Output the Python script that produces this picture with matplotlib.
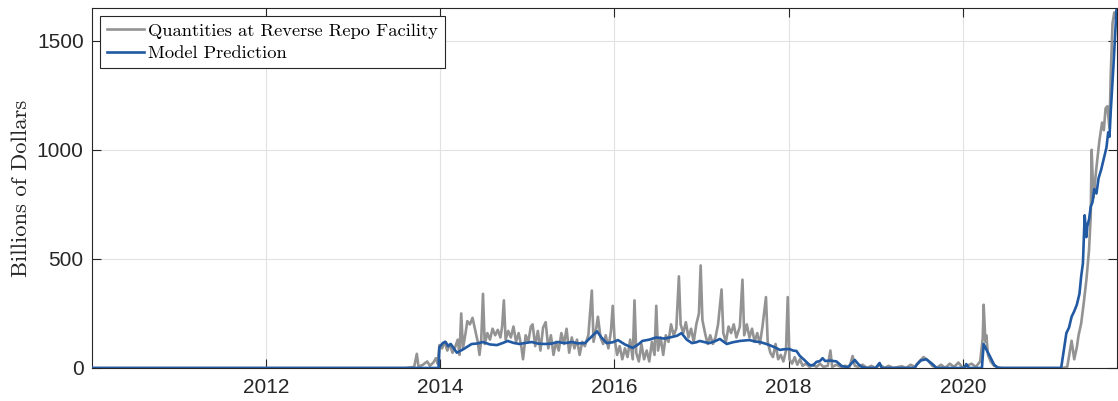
import matplotlib
matplotlib.use("Agg")
import matplotlib.pyplot as plt

# Quantities at the reverse repo facility (billions of dollars)
rrp_years = [2010.00, 2013.60, 2013.70, 2013.73, 2013.75, 2013.80, 2013.85, 2013.88, 2013.92, 2013.95,
             2013.97, 2013.99, 2014.02, 2014.05, 2014.08, 2014.11, 2014.14, 2014.17, 2014.20, 2014.22,
             2014.24, 2014.26, 2014.29, 2014.31, 2014.34, 2014.37, 2014.40, 2014.43, 2014.45, 2014.47,
             2014.49, 2014.51, 2014.54, 2014.57, 2014.60, 2014.63, 2014.66, 2014.69, 2014.71, 2014.73,
             2014.75, 2014.78, 2014.81, 2014.84, 2014.87, 2014.90, 2014.93, 2014.95, 2014.98, 2015.01,
             2015.04, 2015.06, 2015.09, 2015.12, 2015.15, 2015.18, 2015.21, 2015.24, 2015.27, 2015.30,
             2015.33, 2015.36, 2015.39, 2015.42, 2015.45, 2015.48, 2015.51, 2015.54, 2015.57, 2015.60,
             2015.63, 2015.66, 2015.70, 2015.74, 2015.76, 2015.79, 2015.81, 2015.84, 2015.87, 2015.90,
             2015.93, 2015.96, 2015.98, 2016.00, 2016.03, 2016.06, 2016.09, 2016.12, 2016.15, 2016.18,
             2016.21, 2016.23, 2016.25, 2016.28, 2016.31, 2016.34, 2016.37, 2016.40, 2016.43, 2016.46,
             2016.48, 2016.50, 2016.53, 2016.56, 2016.59, 2016.62, 2016.65, 2016.68, 2016.71, 2016.74,
             2016.76, 2016.79, 2016.82, 2016.85, 2016.88, 2016.91, 2016.94, 2016.97, 2016.99, 2017.01,
             2017.04, 2017.07, 2017.10, 2017.13, 2017.16, 2017.19, 2017.23, 2017.25, 2017.28, 2017.31,
             2017.34, 2017.37, 2017.40, 2017.44, 2017.47, 2017.49, 2017.52, 2017.55, 2017.58, 2017.61,
             2017.64, 2017.67, 2017.70, 2017.74, 2017.76, 2017.79, 2017.82, 2017.85, 2017.88, 2017.91,
             2017.94, 2017.97, 2017.99, 2018.01, 2018.04, 2018.07, 2018.10, 2018.13, 2018.16, 2018.20,
             2018.24, 2018.28, 2018.32, 2018.36, 2018.40, 2018.45, 2018.48, 2018.50, 2018.55, 2018.60,
             2018.65, 2018.70, 2018.735, 2018.76, 2018.80, 2018.85, 2018.90, 2018.95, 2019.00, 2019.05,
             2019.10, 2019.15, 2019.20, 2019.30, 2019.35, 2019.40, 2019.45, 2019.50, 2019.55, 2019.60,
             2019.65, 2019.70, 2019.75, 2019.80, 2019.85, 2019.90, 2019.95, 2020.00, 2020.05, 2020.10,
             2020.15, 2020.20, 2020.23, 2020.24, 2020.26, 2020.27, 2020.29, 2020.32, 2020.36, 2020.42,
             2021.15, 2021.20, 2021.25, 2021.28, 2021.31, 2021.33, 2021.36, 2021.39, 2021.42, 2021.45,
             2021.47, 2021.48, 2021.50, 2021.51, 2021.53, 2021.57, 2021.60, 2021.62, 2021.64, 2021.66,
             2021.685, 2021.70, 2021.72, 2021.74, 2021.76]
rrp_values = [0, 0, 5, 65, 5, 15, 30, 10, 25, 45,
              20, 105, 90, 120, 80, 110, 70, 95, 130, 60,
              250, 90, 160, 215, 200, 230, 175, 120, 60, 130,
              340, 110, 160, 130, 180, 150, 175, 140, 190, 310,
              130, 170, 140, 190, 120, 160, 100, 40, 150, 120,
              190, 200, 100, 170, 80, 185, 210, 90, 150, 60,
              120, 80, 160, 110, 180, 70, 140, 90, 130, 60,
              120, 100, 150, 355, 120, 180, 235, 140, 110, 150,
              90, 170, 285, 140, 60, 100, 40, 90, 50, 130,
              40, 310, 70, 30, 110, 40, 80, 30, 120, 60,
              285, 80, 140, 60, 150, 120, 200, 150, 180, 420,
              200, 160, 210, 140, 180, 120, 200, 250, 470, 220,
              160, 110, 150, 110, 140, 200, 360, 160, 120, 190,
              160, 200, 140, 190, 405, 150, 200, 140, 180, 120,
              160, 110, 190, 325, 120, 70, 50, 110, 40, 60,
              30, 80, 325, 40, 20, 50, 15, 40, 10, 20,
              5, 15, 5, 20, 5, 10, 80, 5, 15, 5,
              10, 5, 55, 10, 5, 15, 0, 10, 0, 15,
              0, 10, 0, 8, 0, 15, 5, 30, 50, 35,
              10, 0, 15, 0, 20, 5, 25, 0, 10, 20,
              5, 30, 140, 290, 120, 150, 60, 30, 10, 0,
              0, 5, 125, 40, 95, 150, 205, 300, 405, 540,
              700, 1000, 780, 810, 900, 1045, 1125, 1090, 1190, 1200,
              1100, 1350, 1580, 1630, 1600]

# Model prediction (billions of dollars)
model_years = [2010.00, 2013.98, 2013.99, 2014.03, 2014.06, 2014.09, 2014.12, 2014.19, 2014.26, 2014.36,
               2014.42, 2014.49, 2014.57, 2014.65, 2014.72, 2014.775, 2014.84, 2014.91, 2014.98, 2015.05,
               2015.12, 2015.20, 2015.28, 2015.35, 2015.43, 2015.51, 2015.58, 2015.66, 2015.74, 2015.80,
               2015.85, 2015.91, 2015.98, 2016.04, 2016.12, 2016.21, 2016.28, 2016.32, 2016.40, 2016.48,
               2016.57, 2016.66, 2016.72, 2016.77, 2016.83, 2016.89, 2016.94, 2016.98, 2017.04, 2017.09,
               2017.15, 2017.21, 2017.29, 2017.36, 2017.44, 2017.50, 2017.55, 2017.62, 2017.67, 2017.73,
               2017.78, 2017.84, 2017.90, 2017.95, 2018.01, 2018.05, 2018.09, 2018.13, 2018.18, 2018.24,
               2018.28, 2018.32, 2018.36, 2018.39, 2018.42, 2018.48, 2018.55, 2018.61, 2018.68, 2018.76,
               2018.80, 2018.84, 2018.90, 2019.00, 2019.045, 2019.07, 2019.45, 2019.47, 2019.52, 2019.58,
               2019.64, 2019.70, 2020.02, 2020.04, 2020.07, 2020.22, 2020.24, 2020.27, 2020.31, 2020.36,
               2020.40, 2020.45, 2021.13, 2021.16, 2021.19, 2021.22, 2021.25, 2021.28, 2021.31, 2021.34,
               2021.36, 2021.38, 2021.40, 2021.42, 2021.43, 2021.45, 2021.47, 2021.49, 2021.51, 2021.535,
               2021.56, 2021.59, 2021.62, 2021.65, 2021.67, 2021.685, 2021.70, 2021.73, 2021.765]
model_values = [0, 0, 95, 115, 120, 100, 110, 70, 85, 110,
                112, 119, 108, 105, 115, 124, 115, 110, 115, 119,
                112, 110, 112, 119, 114, 119, 113, 114, 145, 168,
                140, 114, 118, 128, 108, 92, 110, 124, 130, 140,
                135, 142, 148, 160, 130, 114, 118, 124, 118, 114,
                122, 133, 110, 118, 124, 126, 128, 121, 119, 112,
                105, 95, 83, 86, 87, 80, 78, 55, 37, 14,
                12, 28, 32, 45, 32, 34, 30, 9, 3, 37,
                18, 5, 0, 0, 23, 0, 0, 15, 35, 40,
                22, 0, 0, 18, 0, 0, 110, 85, 55, 15,
                2, 0, 0, 80, 160, 185, 235, 260, 290, 340,
                420, 480, 700, 600, 650, 680, 740, 760, 820, 800,
                870, 910, 960, 1010, 1080, 1060, 1180, 1380, 1640]

year_ticks = [2012, 2014, 2016, 2018, 2020]
value_ticks = [0, 500, 1000, 1500]

axis_color = "#262626"
plt.rcParams["font.family"] = ["Liberation Sans", "DejaVu Sans"]

fig = plt.figure(figsize=(11.18, 4.01), dpi=100)
ax = fig.add_axes([0.0823, 0.0823, 0.9167, 0.8977])

ax.plot(rrp_years, rrp_values, color="#939393", linewidth=1.9,
        label="Quantities at Reverse Repo Facility", zorder=3)
ax.plot(model_years, model_values, color="#2159a3", linewidth=1.9,
        label="Model Prediction", zorder=4)

ax.set_xlim(2010.0, 2021.77)
ax.set_ylim(0, 1650)
ax.set_xticks(year_ticks)
ax.set_yticks(value_ticks)
ax.tick_params(direction="in", length=6.5, width=0.8, colors=axis_color,
               labelsize=15, top=True, right=True)
ax.tick_params(axis="x", pad=7)
ax.tick_params(axis="y", pad=6)
for spine in ax.spines.values():
    spine.set_color(axis_color)
    spine.set_linewidth(0.8)
ax.grid(True, color="#e2e2e2", linewidth=0.8)
ax.set_axisbelow(True)

ax.set_ylabel("Billions of Dollars", family="cmr10", fontsize=16.3, color=axis_color, labelpad=4)

leg = ax.legend(loc="upper left", prop={"family": "cmr10", "size": 13.3},
                fancybox=False, framealpha=1, edgecolor=axis_color,
                handlelength=2.0, handletextpad=0.25, borderaxespad=0.42,
                borderpad=0.38, labelspacing=0.35)
leg.get_frame().set_linewidth(0.8)

fig.savefig("out.png", dpi=100)
